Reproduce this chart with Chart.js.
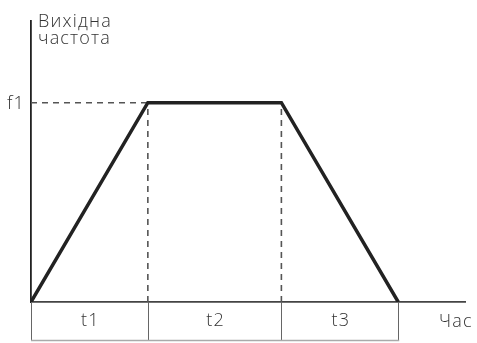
<!DOCTYPE html>
<html>
<head>
<meta charset="utf-8">
<script src="https://cdn.jsdelivr.net/npm/chart.js@4"></script>
<style>
  html, body { margin: 0; padding: 0; background: #fff; }
  #wrap { width: 477px; height: 343px; }
</style>
</head>
<body>
<div id="wrap"><canvas id="freqChart"></canvas></div>
<script>
// phase boundaries on the time axis (arbitrary units) and output frequency
const phaseTimes = [0, 3.5, 7.5, 11];
const freqValues = [0, 1, 1, 0];
const phaseLabels = ['t1', 't2', 't3'];
const freqLabel = 'f1';
const yTitle = ['Вихідна', 'частота'];
const xTitle = 'Час';
const xMax = 13;
const yMax = 1.41;

const FONT = '300 18px "Open Sans", "Noto Sans", sans-serif';
const ink = '#222';

const lineData = phaseTimes.map((t, i) => ({ x: t, y: freqValues[i] }));
const fTop = Math.max(...freqValues);

const guidePlugin = {
    id: 'guides',
    afterDatasetsDraw(chart) {
        const { ctx, chartArea, scales: { x, y } } = chart;
        const y0 = y.getPixelForValue(0);
        const yf = y.getPixelForValue(fTop);
        const boxBottom = y0 + 39;

        ctx.save();
        // phase table below the axis
        ctx.strokeStyle = '#666';
        ctx.lineWidth = 1;
        ctx.beginPath();
        phaseTimes.forEach(t => {
            const px = Math.round(x.getPixelForValue(t)) + 0.5;
            ctx.moveTo(px, y0);
            ctx.lineTo(px, boxBottom);
        });
        ctx.stroke();
        ctx.strokeStyle = '#aaa';
        ctx.lineWidth = 1.5;
        ctx.beginPath();
        ctx.moveTo(x.getPixelForValue(phaseTimes[0]), boxBottom - 0.5);
        ctx.lineTo(x.getPixelForValue(phaseTimes[phaseTimes.length - 1]) + 1, boxBottom - 0.5);
        ctx.stroke();

        ctx.fillStyle = '#333';
        ctx.font = FONT;
        ctx.letterSpacing = '1.2px';
        ctx.textAlign = 'center';
        ctx.textBaseline = 'middle';
        phaseLabels.forEach((lbl, i) => {
            const mid = (phaseTimes[i] + phaseTimes[i + 1]) / 2;
            ctx.fillText(lbl, x.getPixelForValue(mid) + 1, y0 + 19);
        });

        ctx.textAlign = 'left';
        ctx.fillText(xTitle, 439, y0 + 20);

        ctx.textAlign = 'right';
        ctx.fillText(freqLabel, chartArea.left - 6, yf + 1);

        ctx.textAlign = 'left';
        ctx.textBaseline = 'alphabetic';
        ctx.fillText(yTitle[0], chartArea.left + 7, 27);
        ctx.fillText(yTitle[1], chartArea.left + 7, 44);
        ctx.restore();
    }
};

const dashStyle = {
    borderColor: '#555',
    borderWidth: 1.6,
    borderDash: [6, 5],
    pointRadius: 0,
    fill: false
};

new Chart(document.getElementById('freqChart'), {
    type: 'line',
    data: {
        datasets: [
            {
                data: lineData,
                borderColor: ink,
                borderWidth: 3.5,
                pointRadius: 0,
                tension: 0,
                order: 0
            },
            { ...dashStyle, data: [{ x: 0, y: fTop }, { x: phaseTimes[1], y: fTop }], order: 1 },
            { ...dashStyle, data: [{ x: phaseTimes[1], y: 0 }, { x: phaseTimes[1], y: fTop }], order: 1 },
            { ...dashStyle, data: [{ x: phaseTimes[2], y: 0 }, { x: phaseTimes[2], y: fTop }], order: 1 }
        ]
    },
    options: {
        responsive: true,
        maintainAspectRatio: false,
        animation: false,
        layout: { padding: { left: 31, right: 12, top: 21, bottom: 41 } },
        plugins: { legend: { display: false }, tooltip: { enabled: false } },
        scales: {
            x: {
                type: 'linear',
                min: 0,
                max: xMax,
                ticks: { display: false },
                grid: { display: false },
                border: { display: true, color: '#444', width: 1.8 },
                afterFit: s => { s.height = 0; }
            },
            y: {
                min: 0,
                max: yMax,
                ticks: { display: false },
                grid: { display: false },
                border: { display: true, color: '#222', width: 1.8 },
                afterFit: s => { s.width = 0; }
            }
        }
    },
    plugins: [guidePlugin]
});
</script>
</body>
</html>
